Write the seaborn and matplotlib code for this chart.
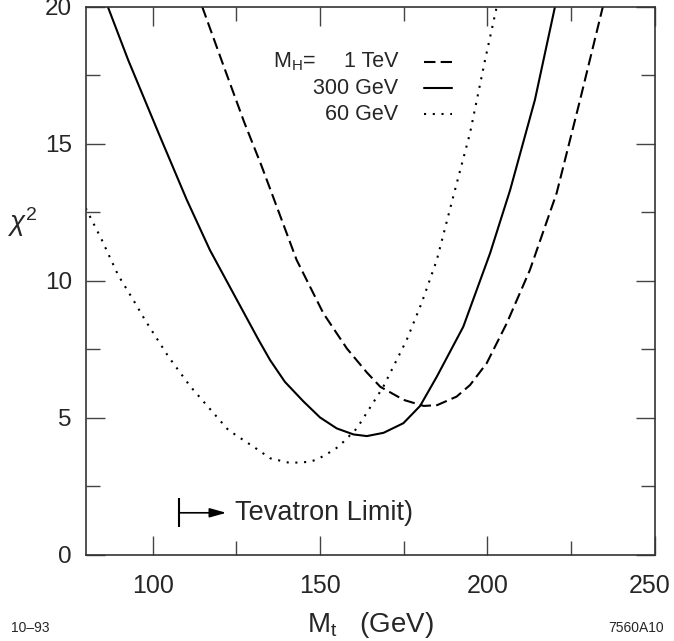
import pandas as pd
import matplotlib
matplotlib.use("Agg")
import matplotlib.pyplot as plt
import matplotlib.transforms as mtransforms
import seaborn as sns

# chi^2 vs top mass
mt_1tev = [114.8, 121.1, 127.3, 132.5, 138.0, 143.0, 151.0, 158.0, 164.0, 168.0,
           175.0, 181.0, 185.0, 190.8, 194.8, 199.8, 205.8, 212.7, 220.7, 227.7, 234.5]
chi2_1tev = [20.0, 17.87, 15.8, 14.2, 12.4, 10.76, 8.81, 7.53, 6.65, 6.13,
             5.65, 5.43, 5.46, 5.77, 6.19, 6.99, 8.45, 10.39, 13.2, 16.6, 20.0]

mt_300 = [86.6, 92.7, 102.2, 110.2, 117.1, 124.1, 131.6, 135.1, 139.5, 145.0, 150.0,
          155.0, 160.0, 164.0, 169.0, 174.9, 179.9, 184.9, 192.8, 200.8, 206.8, 214.2, 220.2]
chi2_300 = [20.0, 18.05, 15.26, 12.95, 11.12, 9.54, 7.85, 7.1, 6.31, 5.60, 5.01,
            4.61, 4.39, 4.33, 4.45, 4.80, 5.43, 6.50, 8.32, 11.0, 13.31, 16.6, 20.0]

mt_60 = [80.0, 84.8, 89.7, 94.2, 97.7, 104.7, 111.2, 122.6, 131.6, 135.1, 141.0, 147.0,
         149.5, 154.5, 157.0, 161.0, 168.9, 175.9, 180.4, 184.9, 189.8, 194.8, 199.3, 202.8]
chi2_60 = [12.65, 11.49, 10.2, 9.30, 8.57, 7.23, 6.15, 4.55, 3.82, 3.52, 3.35, 3.39,
           3.50, 3.85, 4.12, 4.61, 6.13, 7.84, 9.2, 10.76, 13.07, 15.38, 18.05, 20.0]

higgs_labels = ["1 TeV", "300 GeV", "60 GeV"]
x_ticks = [100, 150, 200, 250]
x_minor = [125, 175, 225]
y_ticks = [0, 5, 10, 15, 20]
y_minor = [2.5, 7.5, 12.5, 17.5]

tevatron_limit = 108.0

df = pd.concat([
    pd.DataFrame({"Mt": mt_1tev, "chi2": chi2_1tev, "MH": higgs_labels[0]}),
    pd.DataFrame({"Mt": mt_300, "chi2": chi2_300, "MH": higgs_labels[1]}),
    pd.DataFrame({"Mt": mt_60, "chi2": chi2_60, "MH": higgs_labels[2]}),
])

sns.set_style("ticks")
plt.rcParams["font.family"] = ["Liberation Sans", "DejaVu Sans"]
plt.rcParams["mathtext.fontset"] = "custom"
plt.rcParams["mathtext.rm"] = "Liberation Sans"
plt.rcParams["mathtext.it"] = "Liberation Sans:italic"

dash_map = {"1 TeV": (5.5, 2.5), "300 GeV": "", "60 GeV": (1.0, 3.2)}

fig = plt.figure(figsize=(6.74, 6.41), dpi=100)
ax = fig.add_axes([0.1272, 0.1346, 0.8442, 0.8549])

sns.lineplot(data=df, x="Mt", y="chi2", style="MH", dashes=dash_map,
             color="black", linewidth=1.5, legend=False, ax=ax, sort=False)

ax.set_xlim(80, 250)
ax.set_ylim(0, 20)
ax.set_xticks(x_ticks)
ax.set_xticks(x_minor, minor=True)
ax.set_yticks(y_ticks)
ax.set_yticks(y_minor, minor=True)
ax.tick_params(which="both", direction="in", top=True, right=True,
               width=1.0, color="#444444")
ax.tick_params(which="major", length=14)
ax.tick_params(which="minor", length=10)
ax.tick_params(axis="x", which="major", labelsize=18, pad=14)
ax.tick_params(axis="y", which="major", labelsize=17.5, pad=10)
for s in ax.spines.values():
    s.set_linewidth(1.2)
    s.set_color("#333333")

# last x label sits a little left of its tick so it stays inside the figure
last = ax.get_xticklabels()[-1]
last.set_transform(last.get_transform()
                   + mtransforms.ScaledTranslation(-5 / 100, 0, fig.dpi_scale_trans))

ax.set_xlabel(r"$\mathrm{M_t}$   (GeV)", fontsize=20)
ax.xaxis.set_label_coords(0.5, -0.1)
ax.set_ylabel(r"$\chi^2$", fontsize=20, rotation=0, va="center", ha="center")
ax.yaxis.set_label_coords(-0.112, 0.607)

# legend drawn by hand: label, then line sample to the right
ax.text(0.405, 0.8996, r"$\mathrm{M_H}$=", transform=ax.transAxes,
        ha="right", va="center", fontsize=15.5)
leg_y = [0.8996, 0.8516, 0.8042]
for lab, yy in zip(higgs_labels, leg_y):
    ax.text(0.5494, yy, lab, transform=ax.transAxes, ha="right", va="center", fontsize=15.5)
    ln, = ax.plot([0.594, 0.644], [yy, yy], transform=ax.transAxes,
                  color="black", linewidth=1.5)
    if dash_map[lab]:
        ln.set_dashes(dash_map[lab])

# Tevatron limit marker
ax.vlines(tevatron_limit, 1.0, 2.07, color="black", linewidth=1.5)
ax.annotate("", xy=(tevatron_limit + 14.0, 1.53), xytext=(tevatron_limit, 1.53),
            arrowprops=dict(arrowstyle="-|>,head_length=1.0,head_width=0.28",
                            color="black", lw=1.2, shrinkA=0, shrinkB=0))
ax.text(tevatron_limit + 16.6, 1.53, "Tevatron Limit)", ha="left", va="center", fontsize=19.5)

fig.text(0.016, 0.021, "10\u201393", fontsize=10, ha="left", va="center")
fig.text(0.985, 0.021, "7560A10", fontsize=10, ha="right", va="center")

fig.savefig("out.png", dpi=100)
